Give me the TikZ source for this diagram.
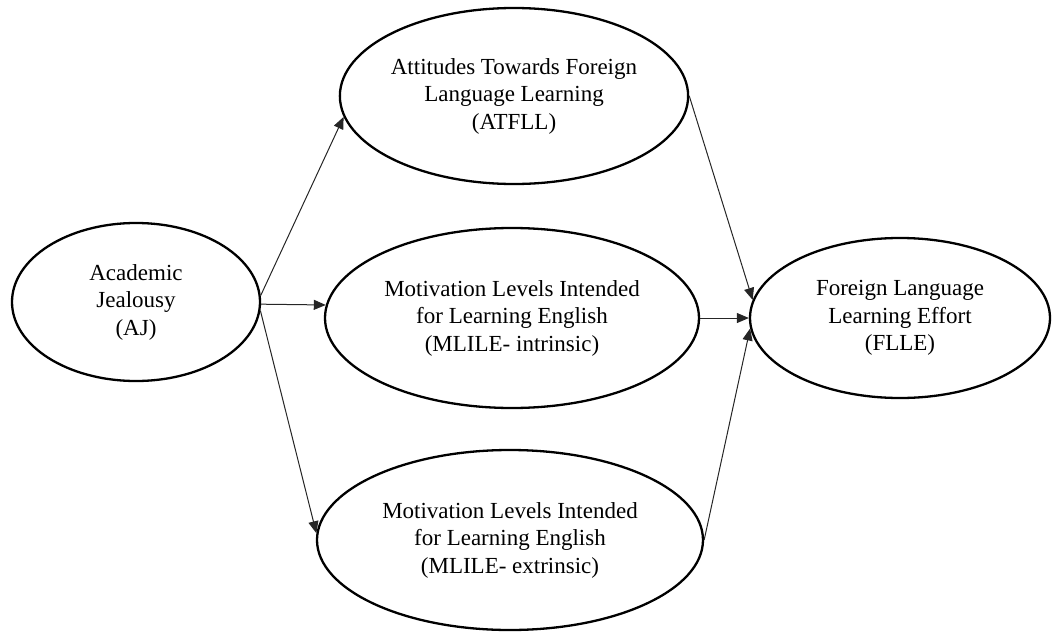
\documentclass[tikz,border=0pt]{standalone}
\usepackage{fontspec}
\setmainfont{Liberation Serif}
\usetikzlibrary{arrows.meta, positioning, shapes.geometric}

\begin{document}
\begin{tikzpicture}[
    x=1pt, y=-1pt,
    oval/.style={draw, ellipse, line width=2.3pt, inner sep=0pt, align=center,
        font=\fontsize{23}{27.5}\selectfont},
    arrow/.style={-{Triangle[length=12pt, width=10pt]}, line width=1pt, black!85}
]
    \useasboundingbox (0,0) rectangle (1053,632);

    \node[oval, minimum width=248pt, minimum height=158pt] (aj) at (136,302) {Academic\\Jealousy\\(AJ)};
    \node[oval, minimum width=348pt, minimum height=176pt] (atfll) at (514,96) {Attitudes Towards Foreign\\Language Learning\\(ATFLL)};
    \node[oval, minimum width=374pt, minimum height=180pt] (intr) at (512,318) {Motivation Levels Intended\\for Learning English\\(MLILE- intrinsic)};
    \node[oval, minimum width=386pt, minimum height=180pt] (extr) at (510,540) {Motivation Levels Intended\\for Learning English\\(MLILE- extrinsic)};
    \node[oval, minimum width=300pt, minimum height=160pt] (flle) at (900,318) {Foreign Language\\Learning Effort\\(FLLE)};

    \draw[arrow] (aj.3) -- (atfll.187);
    \draw[arrow] (aj.-1.4) -- (intr.176);
    \draw[arrow] (aj.-4) -- (extr.178);
    \draw[arrow] (atfll.east) -- (flle.173);
    \draw[arrow] (intr.east) -- (flle.west);
    \draw[arrow] (extr.east) -- (flle.184);
\end{tikzpicture}
\end{document}
